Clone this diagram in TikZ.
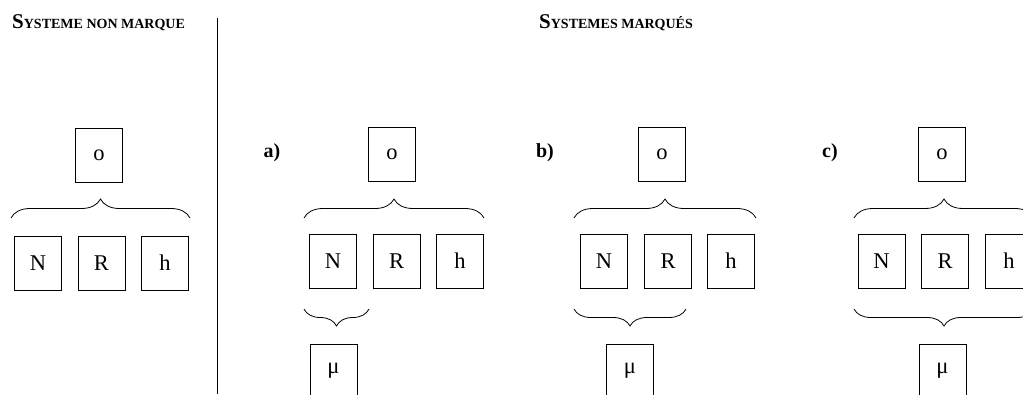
\documentclass[tikz,border=0pt]{standalone}
\usepackage{fontspec}
\setmainfont{Liberation Serif}
\usetikzlibrary{decorations.pathreplacing}
\newcommand\mysc[1]{{\fontsize{14bp}{15bp}\selectfont #1}}
\newcommand\mybig[1]{{\fontsize{21bp}{22bp}\selectfont #1}}
\tikzset{
  cell/.style={draw, line width=0.8bp, minimum width=47bp, minimum height=54bp, inner sep=0pt, font=\fontsize{22.5bp}{24bp}\selectfont},
  brc/.style={decorate, line width=0.8bp, decoration={brace, amplitude=#1}},
  brc/.default=19bp,
  lab/.style={font=\fontsize{20bp}{22bp}\selectfont\bfseries},
  ttl/.style={anchor=base west, inner sep=0pt, font=\bfseries}
}
\begin{document}
\begin{tikzpicture}[x=1bp, y=1bp]
\useasboundingbox (0,0) rectangle (1023,-394);
\clip (0,0) rectangle (1023,-394);
% titles
\node[ttl] (t1) at (12,-28) {\mybig{S}\mysc{YSTEME NON MARQUE}};
\node[ttl] (t2) at (539,-28) {\mybig{S}\mysc{YSTEMES MARQUÉS}};
\coordinate (vtop) at (217,-18);
\coordinate (vbot) at (217,-394);
\draw[line width=0.8bp] (vtop) -- (vbot);
% left panel
\node[cell] (o0) at (99,-155.5) {o};
\node[cell] (N0) at (38,-263) {N};
\node[cell] (R0) at (101.5,-263) {R};
\node[cell] (h0) at (165,-263) {h};
\draw[brc] (11,-218) -- (190,-218);
% a
\node[lab] (la) at (272,-153) {a)};
\node[cell] (oa) at (392,-154.5) {o};
\node[cell] (Na) at (333,-261) {N};
\node[cell] (Ra) at (396.7,-261) {R};
\node[cell] (ha) at (460,-261) {h};
\node[cell] (ma) at (333.5,-371) {μ};
\draw[brc] (304,-218) -- (484,-218);
\draw[brc=17bp] (369,-309) -- (304,-309);
% b
\node[lab] (lb) at (545,-153) {b)};
\node[cell] (ob) at (662,-154.5) {o};
\node[cell] (Nb) at (604,-261) {N};
\node[cell] (Rb) at (668,-261) {R};
\node[cell] (hb) at (731,-261) {h};
\node[cell] (mb) at (630,-371) {μ};
\draw[brc] (574,-218) -- (756,-218);
\draw[brc=17bp] (686,-309) -- (574,-309);
% c
\node[lab] (lc) at (830,-153) {c)};
\node[cell] (oc) at (942,-154.5) {o};
\node[cell] (Nc) at (881.5,-261) {N};
\node[cell] (Rc) at (945,-261) {R};
\node[cell] (hc) at (1009,-261) {h};
\node[cell] (mc) at (942.5,-371) {μ};
\draw[brc] (854,-218) -- (1034,-218);
\draw[brc=17bp] (1034,-309) -- (854,-309);
\end{tikzpicture}
\end{document}
